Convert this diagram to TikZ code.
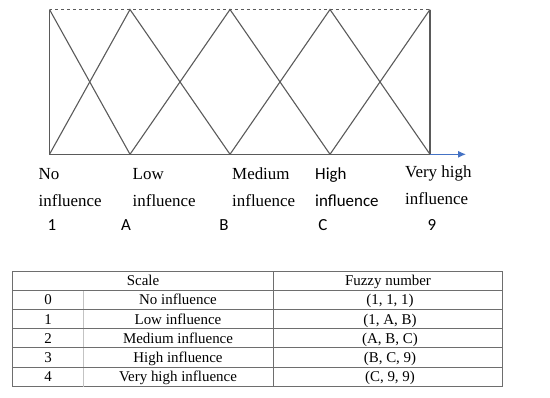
\documentclass[tikz,border=0pt]{standalone}
\usepackage{fontspec}
\setmainfont{Liberation Serif}
\newfontfamily\labelsans{Carlito}
\usetikzlibrary{arrows.meta,positioning,calc}
\definecolor{linegray}{RGB}{90,90,90}
\definecolor{gridgray}{RGB}{110,110,110}
\definecolor{lightgray}{RGB}{195,195,195}
\definecolor{axisblue}{RGB}{68,114,196}

\tikzset{
  memb/.style={draw=linegray,line width=1.1bp},
  lbl/.style={anchor=base west,inner sep=0pt,font=\fontsize{17}{20}\selectfont},
  lblsans/.style={lbl,font=\fontsize{17}{20}\selectfont\labelsans},
  cell/.style={anchor=base,inner sep=0pt,font=\fontsize{15}{18}\selectfont},
  grid/.style={draw=gridgray,line width=1bp}
}

\begin{document}
\begin{tikzpicture}[x=1bp,y=-1bp,>=Stealth]
  \useasboundingbox (0,0) rectangle (550,397);
  % membership functions
  \foreach \n/\x in {1/49.5,2/130,3/230,4/330,5/430}{
    \coordinate (t\n) at (\x,9.5);
    \coordinate (b\n) at (\x,154.3);
  }
  \coordinate (tip) at (466,154.3);
  \draw[memb,dashed] (t1) -- (t5);
  \draw[memb] (t1) -- (b1) -- (b5) -- (t5);
  \draw[memb] (t1) -- (b2);
  \draw[memb] (b1) -- (t2) -- (b3);
  \draw[memb] (b2) -- (t3) -- (b4);
  \draw[memb] (b3) -- (t4) -- (b5);
  \draw[memb] (b4) -- (t5);
  \draw[axisblue,line width=1.1bp,-{Latex[length=8bp,width=7bp]}] (b5) -- (tip);
  % linguistic terms
  \node[lbl] (no1) at (38.5,179.3) {No};
  \node[lbl] (no2) at (38.5,206.5) {influence};
  \node[lbl] (lo1) at (132.5,179.3) {Low};
  \node[lbl] (lo2) at (132.5,206.5) {influence};
  \node[lbl] (me1) at (232,179.3) {Medium};
  \node[lbl] (me2) at (232,206.5) {influence};
  \node[lblsans] (hi1) at (315,179.3) {High};
  \node[lblsans] (hi2) at (315,206.5) {influence};
  \node[lbl] (vh1) at (405,177.3) {Very high};
  \node[lbl] (vh2) at (405,204.8) {influence};
  \foreach \n/\x/\t in {1/52/1,2/126/A,3/224/B,4/323/C,5/432/9}
    \node[lblsans,anchor=base] (v\n) at (\x,230) {\t};
  % table
  \draw[grid] (12.7,271.7) rectangle (502,386.7);
  \draw[grid] (273,271.7) -- (273,386.7);
  \draw[draw=lightgray,line width=1bp] (83,290) -- (83,386.7);
  \foreach \y in {290,309.3,328.5,347.7,367}
    \draw[grid] (12.7,\y) -- (502,\y);
  \node[cell] (hscale) at (143,285.5) {Scale};
  \node[cell] (hfuzzy) at (388,285.5) {Fuzzy number};
  \foreach \i/\y/\s/\f in {0/304.8/No influence/{(1, 1, 1)},
                           1/324/Low influence/{(1, A, B)},
                           2/343.2/Medium influence/{(A, B, C)},
                           3/362.4/High influence/{(B, C, 9)},
                           4/381.8/Very high influence/{(C, 9, 9)}}{
    \node[cell] (n\i) at (48,\y) {\i};
    \node[cell] (s\i) at (178,\y) {\s};
    \node[cell] (f\i) at (390,\y) {\f};
  }
\end{tikzpicture}
\end{document}
